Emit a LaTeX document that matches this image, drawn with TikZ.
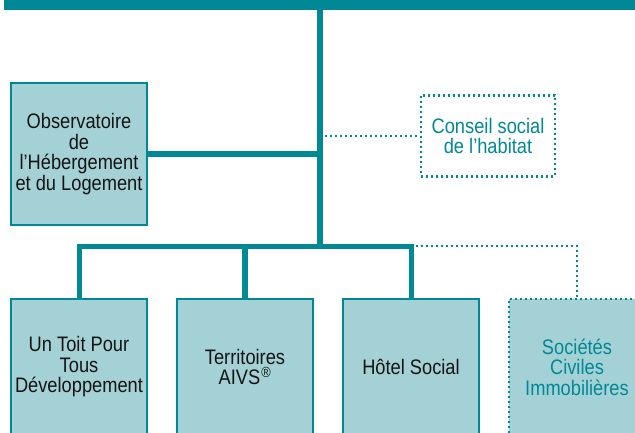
\documentclass[tikz,border=0pt]{standalone}
\usepackage{fontspec}
\setmainfont{Liberation Sans}[FakeStretch=0.87]
\definecolor{sea}{RGB}{0,137,148}
\definecolor{foam}{RGB}{164,209,214}
\definecolor{ink}{RGB}{20,20,20}

\begin{document}
\begin{tikzpicture}
[x=1pt,y=-1pt,
 box/.style={draw=sea,fill=foam,line width=2.8pt,text=ink,align=center,
   inner sep=0pt,font=\fontsize{21}{20.5}\selectfont},
 lowbox/.style={box,minimum width=136pt,minimum height=136pt},
 dotline/.style={draw=sea,line width=2.2pt,dash pattern=on 2pt off 3pt},
 link/.style={draw=sea,line width=5.4pt}]
% page frame
\useasboundingbox (0,0) rectangle (635,433);
\clip (0,0) rectangle (635,433);
\fill[sea] (4,0) rectangle (635,10);
  \coordinate (top) at (320,9);
  \coordinate (hub) at (320,246);
  \node [box,minimum width=136pt,minimum height=142pt] (obs) at (79,154)
    {Observatoire\\de\\l’Hébergement\\et du Logement};
  \node [box,dotline,fill=white,text=sea,minimum width=134pt,minimum height=81pt]
    (csh) at (488,136) {Conseil social\\de l’habitat};
  \node [lowbox] (utpt) at (79,367) {Un Toit Pour\\Tous\\Développement};
  \node [lowbox] (aivs) at (245,367) {Territoires\\AIVS\kern1pt\textsuperscript{®}};
  \node [lowbox] (hsoc) at (411,367) {Hôtel Social};
  \node [lowbox,dotline,text=sea] (sci) at (577,367) {Sociétés\\Civiles\\Immobilières};
  \draw[link] (top) -- (hub);
  \draw[link] (obs.east) -- (obs.east -| top);
  \draw[dotline] (top |- csh.west) -- (csh.west);
  \draw[link,line width=5pt] (utpt.north) |- (hub) -| (hsoc.north);
  \foreach \from/\to in {aivs/hub}
  \draw[link] (\from.north) -- (\from.north |- \to);
  \draw[dotline] (hsoc.north |- hub) -| (sci.north);
\end{tikzpicture}
\end{document}
